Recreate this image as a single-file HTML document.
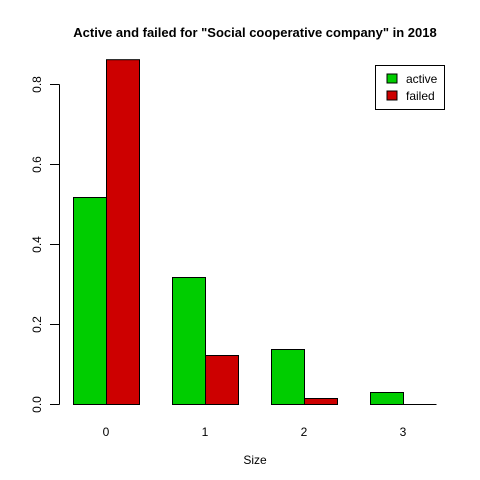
<!DOCTYPE html>
<html><head><meta charset="utf-8"><style>body{margin:0;background:#fff}svg{display:block;font-family:"Liberation Sans",Arial,sans-serif}</style></head>
<body>
<svg id="chart" width="480" height="480" xmlns="http://www.w3.org/2000/svg">
<rect width="480" height="480" fill="#fff"/>
<text x="255" y="37" text-anchor="middle" font-size="13" font-weight="bold">Active and failed for "Social cooperative company" in 2018</text>
<text x="255" y="464" text-anchor="middle" font-size="12">Size</text>
<g id="bars"></g>
<g id="yaxis"></g>
<g id="xlabels"></g>
<g>
<rect x="375.5" y="65.5" width="69" height="44" fill="#fff" stroke="#000"/>
<rect x="387" y="74" width="10" height="9" fill="#00cd00" stroke="#000"/>
<text x="406" y="83" font-size="12">active</text>
<rect x="387" y="91" width="10" height="9" fill="#cd0000" stroke="#000"/>
<text x="406" y="100" font-size="12">failed</text>
</g>
</svg>
<script>
const categories = ["0","1","2","3"];
const activeValues = [0.5175, 0.3175, 0.1375, 0.03];
const failedValues = [0.862, 0.1225, 0.015, 0];
const yTicks = [0, 0.2, 0.4, 0.6, 0.8];
const yTickLabels = ["0.0","0.2","0.4","0.6","0.8"];
const NS="http://www.w3.org/2000/svg";
const y0=404, pxPer=400;
function yScale(v){return y0-v*pxPer;}
function xGroup(i){return 73+i*99;}
const bw=33;
function mk(t,a,p){const e=document.createElementNS(NS,t);for(const k in a)e.setAttribute(k,a[k]);p.appendChild(e);return e;}
const bars=document.getElementById('bars');
categories.forEach((c,i)=>{
  [[activeValues[i],'#00cd00',0,'active'],[failedValues[i],'#cd0000',1,'failed']].forEach(([v,col,k,n])=>{
    const x=xGroup(i)+k*bw, yt=yScale(v);
    let r;
    if (y0-yt < 0.5) {
      r=mk('line',{x1:x+0.5,x2:x+bw+0.5,y1:y0+0.5,y2:y0+0.5,stroke:'#000'},bars);
    } else {
      r=mk('rect',{x:x+0.5,y:yt+0.5,width:bw,height:y0-yt,fill:col,stroke:'#000'},bars);
    }
    
    
  });
  const t=mk('text',{x:xGroup(i)+bw,y:436,'text-anchor':'middle','font-size':12},document.getElementById('xlabels'));
  t.textContent=c;
  
  
});
const ya=document.getElementById('yaxis');


mk('line',{x1:59.5,x2:59.5,y1:yScale(yTicks[0])+0.5,y2:yScale(yTicks[yTicks.length-1])+0.5,stroke:'#000'},ya);
yTicks.forEach((v,i)=>{
  const y=yScale(v)+0.5;
  mk('line',{x1:50,x2:59.5,y1:y,y2:y,stroke:'#000'},ya);
  const t=mk('text',{x:0,y:0,'text-anchor':'middle','font-size':12,transform:`translate(41,${y}) rotate(-90)`},ya);
  t.textContent=yTickLabels[i];
  
  
});
</script>
</body></html>
